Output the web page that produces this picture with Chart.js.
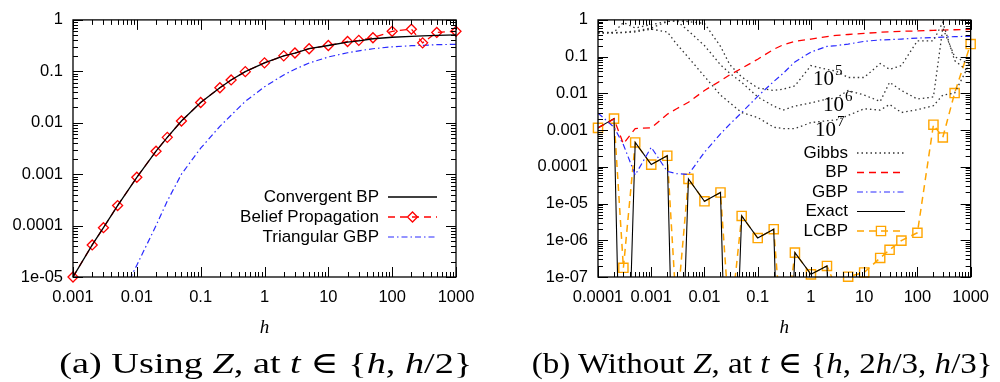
<!DOCTYPE html>
<html>
<head>
<meta charset="utf-8">
<script src="https://cdn.jsdelivr.net/npm/chart.js@4.4.1/dist/chart.umd.min.js"></script>
<style>
  body { margin: 0; background: #fff; width: 1000px; height: 382px; overflow: hidden; position: relative; }
  canvas { position: absolute; top: 0; }
  #chartA { left: 0; }
  #chartB { left: 500px; }
  .cap { position: absolute; top: 348px; font-family: "Liberation Serif", "DejaVu Serif", serif; font-size: 30px; line-height: 30px; white-space: nowrap; color: #000; }
</style>
</head>
<body>
<canvas id="chartA" width="500" height="382"></canvas>
<canvas id="chartB" width="500" height="382"></canvas>
<div class="cap" data-w="413" data-cx="266">(a) Using <i>Z</i>, at <i>t</i> ∈ {<i>h</i>, <i>h</i>/2}</div>
<div class="cap" data-w="461" data-cx="762">(b) Without <i>Z</i>, at <i>t</i> ∈ {<i>h</i>, 2<i>h</i>/3, <i>h</i>/3}</div>
<script>
// ---- (a) Using Z ----
const hA = [0.001, 0.002, 0.003, 0.005, 0.01, 0.02, 0.03, 0.05, 0.1, 0.2, 0.3, 0.5, 1, 2, 3, 5, 10, 20, 30, 50, 100, 200, 300, 500, 1000];
const convBpA = [1e-5, 4.2e-5, 9.1e-5, 2.45e-4, 8.7e-4, 2.8e-3, 5.2e-3, 0.0108, 0.0248, 0.048, 0.068, 0.0986, 0.146, 0.2, 0.227, 0.275, 0.318, 0.37, 0.39, 0.43, 0.46, 0.48, 0.49, 0.5, 0.51];
const beliefA = [1e-5, 4.2e-5, 9.1e-5, 2.45e-4, 8.7e-4, 2.8e-3, 5.2e-3, 0.0108, 0.0248, 0.048, 0.068, 0.0986, 0.146, 0.2, 0.227, 0.275, 0.318, 0.38, 0.40, 0.45, 0.60, 0.66, 0.358, 0.57, 0.60];
const triGbpA = [1e-8, 1.5e-7, 5e-7, 3e-6, 1.7e-5, 1e-4, 3e-4, 1e-3, 3.2e-3, 8.5e-3, 0.014, 0.026, 0.05, 0.085, 0.11, 0.145, 0.19, 0.23, 0.25, 0.275, 0.30, 0.315, 0.32, 0.33, 0.335];
const legendA = ['Convergent BP', 'Belief Propagation', 'Triangular GBP'];
const xTicksA = [0.001, 0.01, 0.1, 1, 10, 100, 1000];
const xLabelsA = ['0.001', '0.01', '0.1', '1', '10', '100', '1000'];
const yTicksA = [1e-5, 1e-4, 1e-3, 0.01, 0.1, 1];
const yLabelsA = ['1e-05', '0.0001', '0.001', '0.01', '0.1', '1'];

// ---- (b) Without Z ----
const hB = [1e-4, 2e-4, 3e-4, 5e-4, 1e-3, 2e-3, 3e-3, 5e-3, 0.01, 0.02, 0.03, 0.05, 0.1, 0.2, 0.3, 0.5, 1, 2, 3, 5, 10, 20, 30, 50, 100, 200, 300, 500, 1000];
const gibbs5B = [0.45, 0.46, 0.85, 0.6, 0.75, 0.9, 0.95, 0.9, 0.8, 0.19, 0.06, 0.028, 0.014, 0.012, 0.013, 0.016, 0.057, 0.045, 0.04, 0.027, 0.027, 0.065, 0.045, 0.057, 0.27, 0.27, 0.86, 0.078, 0.035];
const gibbs6B = [0.45, 0.45, 0.46, 0.5, 0.6, 0.9, 0.95, 0.5, 0.2, 0.06, 0.035, 0.02, 0.008, 0.0045, 0.0035, 0.0045, 0.0055, 0.007, 0.0075, 0.012, 0.009, 0.006, 0.02, 0.012, 0.007, 0.008, 0.6, 0.1, 0.06];
const gibbs7B = [0.44, 0.44, 0.45, 0.47, 0.56, 0.47, 0.22, 0.094, 0.029, 0.009, 0.0055, 0.003, 0.0022, 0.0012, 0.0011, 0.0011, 0.0016, 0.0018, 0.0019, 0.0025, 0.0038, 0.0035, 0.005, 0.003, 0.0036, 0.0046, 0.009, 0.0102, 0.073];
const bpB = [1.15e-3, 2.0e-3, 4.2e-4, 1.1e-3, 1.15e-3, 2.7e-3, 3.8e-3, 5.7e-3, 0.012, 0.022, 0.032, 0.048, 0.085, 0.158, 0.21, 0.26, 0.30, 0.35, 0.38, 0.40, 0.43, 0.46, 0.475, 0.49, 0.50, 0.52, 0.53, 0.54, 0.55];
const gbpB = [2.9e-3, 1.2e-3, 4e-4, 6e-5, 3.4e-4, 7.5e-5, 6.5e-5, 6.2e-5, 2.5e-4, 7.9e-4, 1.45e-3, 3e-3, 8.3e-3, 0.021, 0.035, 0.072, 0.133, 0.19, 0.2, 0.22, 0.26, 0.285, 0.29, 0.30, 0.32, 0.33, 0.34, 0.35, 0.358];
const exactB = [1.15e-3, 2.05e-3, 1e-14, 4.6e-4, 1.15e-4, 2.0e-4, 1e-14, 4.7e-5, 1.15e-5, 2.0e-5, 1e-14, 4.6e-6, 1.15e-6, 2.0e-6, 1e-14, 4.6e-7, 1.18e-7, 2.0e-7, 1e-14, null, null, null, null, null, null, null, null, null, null];
const lcbpB = [1.15e-3, 2.05e-3, 1.78e-7, 4.6e-4, 1.15e-4, 2.0e-4, 1e-8, 4.7e-5, 1.15e-5, 2.0e-5, 4e-9, 4.6e-6, 1.15e-6, 2.0e-6, 1e-9, 4.6e-7, 1.18e-7, 2.0e-7, 5e-8, 1.02e-7, 1.33e-7, 3.3e-7, 5.5e-7, 9.8e-7, 1.6e-6, 1.4e-3, 6.3e-4, 0.0102, 0.22];
const legendB = ['Gibbs', 'BP', 'GBP', 'Exact', 'LCBP'];
const gibbsNotes = [['10', '5'], ['10', '6'], ['10', '7']];
const xTicksB = [1e-4, 1e-3, 0.01, 0.1, 1, 10, 100, 1000];
const xLabelsB = ['0.0001', '0.001', '0.01', '0.1', '1', '10', '100', '1000'];
const yTicksB = [1e-7, 1e-6, 1e-5, 1e-4, 1e-3, 0.01, 0.1, 1];
const yLabelsB = ['1e-07', '1e-06', '1e-05', '0.0001', '0.001', '0.01', '0.1', '1'];

Chart.defaults.font.family = '"Liberation Sans", Arial, sans-serif';
Chart.defaults.font.size = 16.5;
Chart.defaults.color = '#000';

const pts = (xs, ys) => xs.map((x, i) => ({x: x, y: ys[i]}));

// gnuplot style frame with inward log ticks on all four sides
const frameTicks = {
  id: 'frameTicks',
  afterDatasetsDraw(chart) {
    const {ctx, chartArea: a} = chart;
    const sx = chart.scales.x, sy = chart.scales.y;
    ctx.save();
    ctx.strokeStyle = '#000';
    ctx.lineWidth = 1;
    ctx.beginPath();
    const each = (s, fn) => {
      for (let d = Math.floor(Math.log10(s.min) + 1e-9); d <= Math.log10(s.max) + 1e-9; d++) {
        for (let m = 1; m <= 9; m++) {
          const v = m * Math.pow(10, d);
          if (v < s.min * 0.999 || v > s.max * 1.001) continue;
          fn(Math.round(s.getPixelForValue(v)) + 0.5, m === 1 ? 10 : 5);
        }
      }
    };
    each(sx, (p, len) => {
      ctx.moveTo(p, a.bottom); ctx.lineTo(p, a.bottom - len);
      ctx.moveTo(p, a.top); ctx.lineTo(p, a.top + len);
    });
    each(sy, (p, len) => {
      ctx.moveTo(a.left, p); ctx.lineTo(a.left + len, p);
      ctx.moveTo(a.right, p); ctx.lineTo(a.right - len, p);
    });
    ctx.stroke();
    ctx.lineWidth = 1.3;
    ctx.strokeRect(a.left, a.top, a.right - a.left, a.bottom - a.top);
    ctx.restore();
  }
};

function marker(ctx, style, x, y, r) {
  ctx.beginPath();
  if (style === 'rectRot') {
    ctx.moveTo(x - r, y); ctx.lineTo(x, y - r); ctx.lineTo(x + r, y); ctx.lineTo(x, y + r); ctx.closePath();
  } else {
    const s = r * Math.SQRT1_2;
    ctx.rect(x - s, y - s, 2 * s, 2 * s);
  }
  ctx.stroke();
}

// key: text right-aligned, sample line to its right
const gpLegend = {
  id: 'gpLegend',
  afterDraw(chart, args, o) {
    const ctx = chart.ctx;
    ctx.save();
    ctx.font = '17px "Liberation Sans", Arial, sans-serif';
    ctx.textAlign = 'right';
    ctx.textBaseline = 'middle';
    let row = 0;
    chart.data.datasets.forEach(ds => {
      if (!ds.keyLabel) return;
      const y = o.top + row * o.step;
      ctx.fillStyle = '#000';
      ctx.fillText(ds.keyLabel, o.right, y);
      ctx.strokeStyle = ds.borderColor;
      ctx.lineWidth = ds.borderWidth;
      ctx.setLineDash(ds.borderDash || []);
      ctx.beginPath();
      ctx.moveTo(o.from, y); ctx.lineTo(o.to, y);
      ctx.stroke();
      ctx.setLineDash([]);
      if (ds.keyPoint) {
        ctx.lineWidth = 1.3;
        marker(ctx, ds.keyPoint, (o.from + o.to) / 2, y, ds.keyRadius);
      }
      row++;
    });
    ctx.restore();
  }
};

// sample-count notes beside the Gibbs curves
const gibbsLabels = {
  id: 'gibbsLabels',
  afterDraw(chart, args, o) {
    if (!o.at) return;
    const ctx = chart.ctx;
    ctx.save();
    ctx.fillStyle = '#000';
    ctx.textBaseline = 'middle';
    ctx.textAlign = 'left';
    gibbsNotes.forEach((n, i) => {
      const [x, y] = o.at[i];
      ctx.font = '21px "Liberation Serif", serif';
      ctx.fillText(n[0], x, y);
      const w = ctx.measureText(n[0]).width;
      ctx.font = '15px "Liberation Serif", serif';
      ctx.fillText(n[1], x + w + 1, y - 8);
    });
    ctx.restore();
  }
};

function logAxis(min, max, ticks, labels, isX, fixed) {
  return {
    type: 'logarithmic',
    min: min,
    max: max,
    grid: {display: false, drawTicks: false},
    border: {display: false},
    afterBuildTicks: s => { s.ticks = ticks.map(v => ({value: v})); },
    afterFit: s => { if (isX) s.height = fixed; else s.width = fixed; },
    ticks: {
      autoSkip: false,
      maxRotation: 0,
      padding: isX ? 11 : 10,
      callback: (v, i) => labels[i]
    },
    title: isX ? {
      display: true,
      text: 'h',
      font: {family: '"Liberation Serif", serif', style: 'italic', size: 19},
      padding: {top: 0, bottom: 43}
    } : {display: false}
  };
}

function baseOptions(padRight, yWidth, xs, ys, legend, notes) {
  return {
    responsive: false,
    animation: false,
    devicePixelRatio: 1,
    layout: {padding: {top: 15, right: padRight, left: 0, bottom: 0}},
    elements: {line: {tension: 0}},
    plugins: {legend: {display: false}, tooltip: {enabled: false}, gpLegend: legend, gibbsLabels: notes},
    scales: {x: xs, y: ys}
  };
}

new Chart(document.getElementById('chartA'), {
  type: 'line',
  data: {
    datasets: [
      {keyLabel: legendA[0], data: pts(hA, convBpA), borderColor: '#000', borderWidth: 1.3, pointRadius: 0},
      {keyLabel: legendA[1], data: pts(hA, beliefA), borderColor: '#ff0000', borderWidth: 1.3, borderDash: [7, 5],
        pointStyle: 'rectRot', pointRadius: 5, pointBorderWidth: 1.3, pointBackgroundColor: 'rgba(0,0,0,0)',
        keyPoint: 'rectRot', keyRadius: 5, clip: false},
      {keyLabel: legendA[2], data: pts(hA, triGbpA), borderColor: '#2a2aff', borderWidth: 1.2, borderDash: [6, 3, 1.5, 3], pointRadius: 0}
    ]
  },
  options: baseOptions(44, 73,
    logAxis(0.001, 1000, xTicksA, xLabelsA, true, 105),
    logAxis(1e-5, 1, yTicksA, yLabelsA, false, 73),
    {right: 379, top: 197, step: 20, from: 388, to: 437},
    {}),
  plugins: [frameTicks, gpLegend, gibbsLabels]
});

const gibbsStyle = {borderColor: '#333', borderWidth: 1.3, borderDash: [1.5, 3], pointRadius: 0};

new Chart(document.getElementById('chartB'), {
  type: 'line',
  data: {
    datasets: [
      Object.assign({keyLabel: legendB[0], data: pts(hB, gibbs5B)}, gibbsStyle),
      Object.assign({data: pts(hB, gibbs6B)}, gibbsStyle),
      Object.assign({data: pts(hB, gibbs7B)}, gibbsStyle),
      {keyLabel: legendB[1], data: pts(hB, bpB), borderColor: '#ff0000', borderWidth: 1.3, borderDash: [7, 5], pointRadius: 0},
      {keyLabel: legendB[2], data: pts(hB, gbpB), borderColor: '#2a2aff', borderWidth: 1.2, borderDash: [6, 3, 1.5, 3], pointRadius: 0},
      {keyLabel: legendB[3], data: pts(hB, exactB), borderColor: '#000', borderWidth: 1.1, pointRadius: 0},
      {keyLabel: legendB[4], data: pts(hB, lcbpB), borderColor: '#ffa500', borderWidth: 1.5, borderDash: [7, 5], pointRadius: 0,
        keyPoint: 'rect', keyRadius: 6.5},
      {data: pts(hB, lcbpB), showLine: false, clip: false, pointStyle: 'rect', borderColor: '#ffa500',
        pointBorderWidth: 1.4, pointBackgroundColor: 'rgba(0,0,0,0)',
        pointRadius: c => (c.parsed.y >= 0.99e-7 ? 6.5 : 0)}
    ]
  },
  options: baseOptions(19, 98,
    logAxis(1e-4, 1000, xTicksB, xLabelsB, true, 105),
    logAxis(1e-7, 1, yTicksB, yLabelsB, false, 98),
    {right: 348, top: 153, step: 19.5, from: 357, to: 405},
    {at: [[313, 79], [323, 105], [315, 130]]}),
  plugins: [frameTicks, gpLegend, gibbsLabels]
});

// captions: stretch to the reference width
document.querySelectorAll('.cap').forEach(el => {
  const w = el.getBoundingClientRect().width;
  el.style.left = (+el.dataset.cx - w / 2) + 'px';
  el.style.transform = 'scaleX(' + (+el.dataset.w / w) + ')';
});
</script>
</body>
</html>
